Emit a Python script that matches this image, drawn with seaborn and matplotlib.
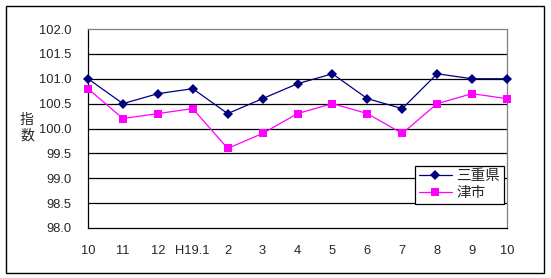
import matplotlib
matplotlib.use("Agg")
import matplotlib.pyplot as plt
import seaborn as sns
import pandas as pd
from matplotlib.patches import Rectangle

categories = ["10", "11", "12", "H19.1", "2", "3", "4", "5", "6", "7", "8", "9", "10"]
mie = [101.0, 100.5, 100.7, 100.8, 100.3, 100.6, 100.9, 101.1, 100.6, 100.4, 101.1, 101.0, 101.0]
tsu = [100.8, 100.2, 100.3, 100.4, 99.6, 99.9, 100.3, 100.5, 100.3, 99.9, 100.5, 100.7, 100.6]
series_names = ["三重県", "津市"]
yticks = [98.0, 98.5, 99.0, 99.5, 100.0, 100.5, 101.0, 101.5, 102.0]

sns.set_style("white")
plt.rcParams['font.family'] = ['Liberation Sans', 'Noto Sans CJK JP', 'DejaVu Sans']

df = pd.DataFrame({
    "x": list(range(len(categories))) * 2,
    "value": mie + tsu,
    "series": [series_names[0]] * len(mie) + [series_names[1]] * len(tsu),
})

fig = plt.figure(figsize=(5.51, 2.78), dpi=100)
ax = fig.add_axes([88/551, 1-228/278, (507-88)/551, (228-29)/278])

sns.lineplot(data=df, x="x", y="value", hue="series", style="series",
             palette={"三重県": "#000080", "津市": "#FF00FF"},
             markers={"三重県": "D", "津市": "s"}, dashes=False,
             markersize=5.5, markeredgewidth=0, linewidth=0.9, ax=ax,
             clip_on=False, zorder=3)

ax.set_xlim(0, len(categories) - 1)
ax.set_ylim(98.0, 102.0)
ax.set_yticks(yticks)
ax.set_yticklabels([f"{v:.1f}" for v in yticks], fontsize=9.3)
ax.set_xticks(range(len(categories)))
ax.set_xticklabels(categories, fontsize=9.3)
ax.tick_params(axis='x', direction='in', length=3, width=0.9, color='black', pad=12)
ax.tick_params(axis='y', length=0, pad=12)
for v in yticks[1:-1]:
    ax.axhline(v, color='black', lw=0.9, zorder=1)
ax.set_xlabel("")
ax.set_ylabel("")
for s in ["left", "bottom"]:
    ax.spines[s].set_color("black")
    ax.spines[s].set_linewidth(0.9)
for s in ["top", "right"]:
    ax.spines[s].set_color("#808080")
    ax.spines[s].set_linewidth(0.9)

fig.text(27/551, 1-128/278, "指\n数", ha='center', va='center', fontsize=10,
         family=['Noto Sans CJK JP'], linespacing=1.1)

leg = ax.legend(loc='lower right', bbox_to_anchor=(504/551, 1-204/278),
                bbox_transform=fig.transFigure, fontsize=10.5, frameon=True,
                fancybox=False, edgecolor='black', framealpha=1,
                handlelength=2.3, borderpad=0.25, labelspacing=0.2,
                handletextpad=0.3, borderaxespad=0)
leg.get_frame().set_linewidth(0.9)
for t in leg.get_texts():
    t.set_family(['Noto Sans CJK JP'])

fig.patches.append(Rectangle((6/551, 1-273/278), (544-6)/551, (273-6)/278,
                             transform=fig.transFigure, fill=False,
                             edgecolor='black', lw=1.0))

fig.savefig("out.png", dpi=100)
